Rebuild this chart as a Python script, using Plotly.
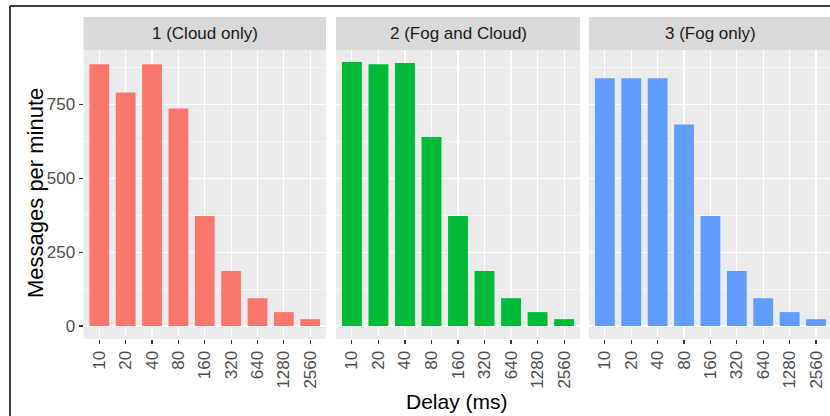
import plotly.graph_objects as go

W, H = 830, 416

delays = ["10", "20", "40", "80", "160", "320", "640", "1280", "2560"]
panels = ["1 (Cloud only)", "2 (Fog and Cloud)", "3 (Fog only)"]
cloud_only = [886, 790, 886, 736, 372, 186, 94, 47, 23]
fog_and_cloud = [893, 886, 890, 640, 372, 186, 94, 47, 23]
fog_only = [838, 838, 838, 682, 372, 186, 94, 47, 23]
colors = ["#F8766D", "#00BA38", "#619CFF"]
y_ticks = [0, 250, 500, 750]

series = [cloud_only, fog_and_cloud, fog_only]

# panel pixel extents
px_x = [(83.5, 326), (336, 580), (589, 830)]
px_top, px_bot = 50, 339
strip_top = 17

fig = go.Figure()
font_fam = "Liberation Sans, Arial, sans-serif"

for i, (vals, col) in enumerate(zip(series, colors)):
    xa = "x" if i == 0 else f"x{i+1}"
    ya = "y" if i == 0 else f"y{i+1}"
    fig.add_trace(go.Bar(x=delays, y=vals, marker=dict(color=col, line=dict(width=0)),
                         width=0.75, xaxis=xa, yaxis=ya, showlegend=False))

layout = dict(
    width=W, height=H,
    margin=dict(l=0, r=0, t=0, b=0),
    paper_bgcolor="white",
    plot_bgcolor="#EBEBEB",
    font=dict(family=font_fam, color="#4D4D4D", size=17),
    showlegend=False,
)

ydom = [1 - px_bot / H, 1 - px_top / H]
for i in range(3):
    x0, x1 = px_x[i]
    key = "" if i == 0 else str(i + 1)
    right = 8.6
    if i == 2:
        right = -0.6 + (830 - 589) / 26.4
    layout["xaxis" + key] = dict(
        domain=[x0 / W, x1 / W], anchor="y" + key, type="category",
        range=[-0.6, right], showgrid=True, gridcolor="white", gridwidth=1.1,
        ticks="outside", ticklen=4, tickwidth=1.1, tickcolor="#333333",
        tickangle=-90, tickfont=dict(size=17, color="#4D4D4D"),
        showline=False, zeroline=False, fixedrange=True,
    )
    layout["yaxis" + key] = dict(
        domain=ydom, anchor="x" + key, range=[-44, 934],
        tickvals=y_ticks, showticklabels=(i == 0),
        ticks="outside" if i == 0 else "", ticklen=4, tickwidth=1.1, tickcolor="#333333",
        tickfont=dict(size=17, color="#4D4D4D"),
        showgrid=True, gridcolor="white", gridwidth=1.1, zeroline=False,
        minor=dict(dtick=125, tick0=0, showgrid=True, gridcolor="white", gridwidth=0.55, ticks=""),
        showline=False, fixedrange=True,
    )

shapes = []
annotations = []
for i in range(3):
    x0, x1 = px_x[i]
    shapes.append(dict(type="rect", xref="paper", yref="paper",
                       x0=x0 / W, x1=x1 / W,
                       y0=1 - px_top / H, y1=1 - strip_top / H,
                       fillcolor="#D9D9D9", line=dict(width=0), layer="below"))
    cx = (x0 + (831.4 if i == 2 else x1)) / 2
    annotations.append(dict(text=panels[i], xref="paper", yref="paper",
                            x=cx / W, y=1 - (strip_top + px_top) / 2 / H,
                            showarrow=False, font=dict(size=17, color="#1A1A1A"),
                            xanchor="center", yanchor="middle"))

# frame lines
shapes.append(dict(type="line", xref="paper", yref="paper", x0=10 / W, x1=1, y0=1 - 6 / H, y1=1 - 6 / H,
                   line=dict(color="black", width=1.5)))
shapes.append(dict(type="line", xref="paper", yref="paper", x0=10 / W, x1=10 / W, y0=0, y1=1 - 6 / H,
                   line=dict(color="black", width=1.5)))

annotations.append(dict(text="Messages per minute", xref="paper", yref="paper",
                        x=35 / W, y=1 - 193 / H, textangle=-90, showarrow=False,
                        font=dict(size=22, color="black"), xanchor="center", yanchor="middle"))
annotations.append(dict(text="Delay (ms)", xref="paper", yref="paper",
                        x=457 / W, y=1 - 401 / H, showarrow=False,
                        font=dict(size=21, color="black"), xanchor="center", yanchor="middle"))

layout["shapes"] = shapes
layout["annotations"] = annotations
fig.update_layout(**layout)
fig.write_html("out.html", config={"displayModeBar": False, "staticPlot": True},
               post_script="document.body.style.margin='0';document.body.style.padding='0';document.body.style.overflow='hidden';")
